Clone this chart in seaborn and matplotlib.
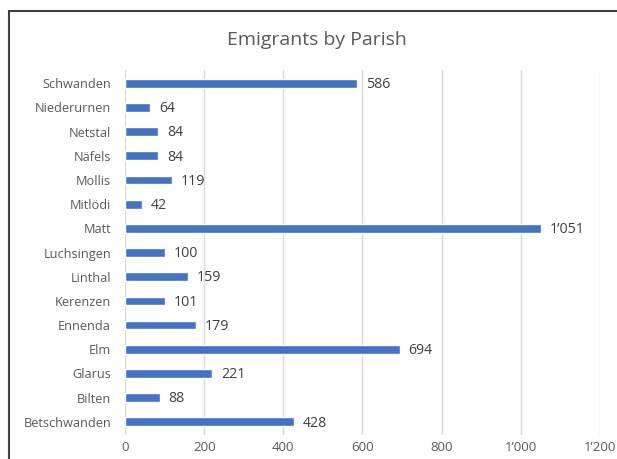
import matplotlib
matplotlib.use("Agg")
import matplotlib.pyplot as plt
import matplotlib.patches as mpatches
import seaborn as sns
import pandas as pd

# -------------------------------
# Data
# -------------------------------
parishes = ['Schwanden', 'Niederurnen', 'Netstal', 'Näfels', 'Mollis', 'Mitlödi',
            'Matt', 'Luchsingen', 'Linthal', 'Kerenzen', 'Ennenda', 'Elm',
            'Glarus', 'Bilten', 'Betschwanden']
emigrants = [586, 64, 84, 84, 119, 42, 1051, 100, 159, 101, 179, 694, 221, 88, 428]
x_ticks = [0, 200, 400, 600, 800, 1000, 1200]

df = pd.DataFrame({'parish': parishes, 'emigrants': emigrants})


def swiss(v):
    s = f"{int(v):,}"
    return s.replace(',', '\u2019')


sns.set_style("white")
plt.rcParams['font.family'] = ['Open Sans', 'DejaVu Sans']

fig = plt.figure(figsize=(6.17, 4.59), dpi=100)
ax = fig.add_axes([0.2026, 0.052, 0.7698, 0.7955])

sns.barplot(data=df, x='emigrants', y='parish', color='#4472C4',
            width=0.36, saturation=1, ax=ax, zorder=3)

ax.set_xlim(0, 1200)
ax.set_ylim(14.55, -0.55)
ax.set_xticks(x_ticks)
ax.set_xticklabels([swiss(t) for t in x_ticks])
ax.grid(axis='x', color='#D9D9D9', linewidth=1, zorder=0)
ax.grid(axis='y', visible=False)
for s in ax.spines.values():
    s.set_visible(False)
ax.tick_params(axis='y', length=0, labelsize=9.2, colors='#595959', pad=10)
ax.tick_params(axis='x', length=0, labelsize=9.5, colors='#595959', pad=4)
ax.set_xlabel('')
ax.set_ylabel('')

for i, v in enumerate(emigrants):
    ax.text(v + 22, i + 0.05, swiss(v), va='center', ha='left', fontsize=10.2, color='#404040')

fig.text(317 / 617, 1 - 40 / 459, 'Emigrants by Parish',
         ha='center', va='center', fontsize=14, color='#595959')

# chart border
fig.patches.append(mpatches.Rectangle((9 / 617, -0.1), 1.2, 1 - 11 / 459 + 0.1,
                                      transform=fig.transFigure, fill=False,
                                      edgecolor='#404040', linewidth=1.5))

fig.savefig('out.png', dpi=100)
